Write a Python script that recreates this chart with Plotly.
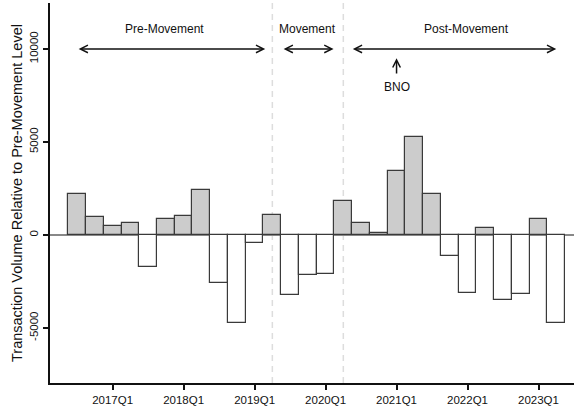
import plotly.graph_objects as go

# Quarterly data: 2016Q3 .. 2023Q2
quarters = ["2016Q3", "2016Q4",
            "2017Q1", "2017Q2", "2017Q3", "2017Q4",
            "2018Q1", "2018Q2", "2018Q3", "2018Q4",
            "2019Q1", "2019Q2", "2019Q3", "2019Q4",
            "2020Q1", "2020Q2", "2020Q3", "2020Q4",
            "2021Q1", "2021Q2", "2021Q3", "2021Q4",
            "2022Q1", "2022Q2", "2022Q3", "2022Q4",
            "2023Q1", "2023Q2"]
volume = [2200, 970, 485, 665, -1700, 860,
          1020, 2420, -2600, -4730, -450, 1075,
          -3210, -2150, -2100, 1830, 645, 125,
          3420, 5270, 2190, -1150, -3100, 375,
          -3490, -3190, 860, -4730]
tick_labels = ["2017Q1", "2018Q1", "2019Q1", "2020Q1", "2021Q1", "2022Q1", "2023Q1"]
y_ticks = [-5000, 0, 5000, 10000]

x = list(range(len(quarters)))
tick_pos = [quarters.index(t) for t in tick_labels]

colors = ["#cccccc" if v >= 0 else "#ffffff" for v in volume]

fig = go.Figure()
fig.add_trace(go.Bar(
    x=x, y=volume, width=1.0,
    marker=dict(color=colors, line=dict(color="#3a3a3a", width=1.2)),
    showlegend=False, hoverinfo="skip"))

FONT = "Liberation Sans, Arial, sans-serif"

# dashed vertical period separators (2019Q2, 2020Q2)
for q in ["2019Q2", "2020Q2"]:
    fig.add_shape(type="line", xref="x", yref="paper",
                  x0=quarters.index(q), x1=quarters.index(q), y0=0, y1=1,
                  line=dict(color="#dddddd", width=1.5, dash="6px,5px"), layer="below")

def darrow(x0, x1, y):
    fig.add_annotation(x=x1, y=y, ax=x0, ay=y, xref="x", yref="y", axref="x", ayref="y",
                       text="", showarrow=True, arrowhead=5, startarrowhead=5,
                       arrowside="end+start", arrowsize=1, startarrowsize=1,
                       arrowwidth=1.5, arrowcolor="#111111")

darrow(0.0, 10.6, 10000)
darrow(11.55, 14.45, 10000)
darrow(15.45, 27.0, 10000)

for txt, xp in [("Pre-Movement", 4.95), ("Movement", 13.0), ("Post-Movement", 21.95)]:
    fig.add_annotation(x=xp, y=11050, xref="x", yref="y", text=txt, showarrow=False,
                       font=dict(family=FONT, size=12, color="#111111"))

# BNO arrow
fig.add_annotation(x=18, y=9500, ax=18, ay=8600, xref="x", yref="y", axref="x", ayref="y",
                   text="", showarrow=True, arrowhead=5, arrowsize=1, arrowwidth=1.5,
                   arrowcolor="#111111")
fig.add_annotation(x=18, y=7980, xref="x", yref="y", text="BNO", showarrow=False,
                   font=dict(family=FONT, size=12, color="#111111"))

fig.update_layout(
    width=574, height=412,
    margin=dict(l=50, r=0, t=3, b=29),
    paper_bgcolor="white", plot_bgcolor="white",
    bargap=0,
    font=dict(family=FONT, color="#111111"),
    xaxis=dict(range=[-1.53, 28.0], tickmode="array", tickvals=tick_pos, ticktext=tick_labels,
               showgrid=False, zeroline=False, showline=True, linecolor="#111111", linewidth=2,
               ticks="outside", ticklen=5, tickwidth=1.5, tickcolor="#111111",
               tickfont=dict(family=FONT, size=11.5, color="#111111")),
    yaxis=dict(range=[-7960, 12470], tickmode="array", tickvals=y_ticks,
               ticktext=[str(v) for v in y_ticks], tickangle=-90,
               showgrid=False, zeroline=True, zerolinecolor="#888888", zerolinewidth=1.5,
               showline=True, linecolor="#111111", linewidth=2,
               ticks="outside", ticklen=5, tickwidth=1.5, tickcolor="#111111",
               tickfont=dict(family=FONT, size=11.5, color="#111111"),
               title=dict(text="Transaction Volume Relative to Pre-Movement Level",
                          font=dict(family=FONT, size=14.5, color="#111111"), standoff=2)),
)

fig.write_html("out.html")
